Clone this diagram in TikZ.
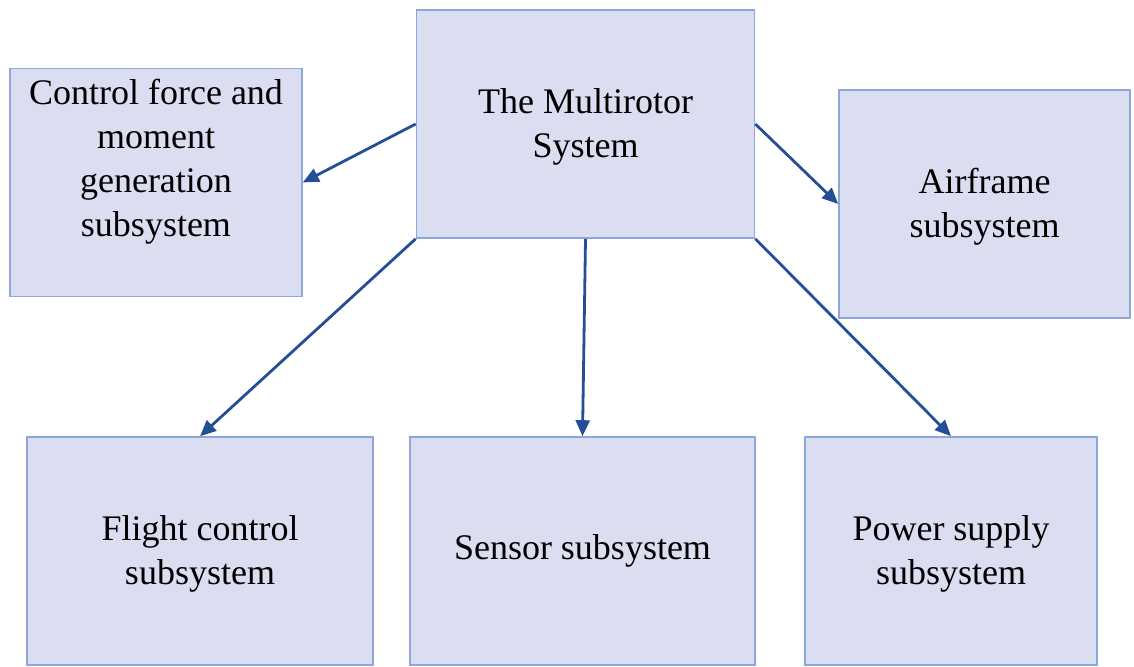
\documentclass[tikz,border=0pt]{standalone}
\usepackage{fontspec}
\setmainfont{Liberation Serif}
\usetikzlibrary{arrows.meta,positioning}
\definecolor{boxfill}{RGB}{218,222,240}
\definecolor{boxline}{RGB}{140,168,218}
\definecolor{arrowblue}{RGB}{36,78,150}
\tikzset{
  >={Triangle[length=8pt,width=7pt]},
  line join=round,
  subbox/.style={draw=boxline, fill=boxfill, line width=0.8pt, align=center,
    inner sep=0pt, minimum height=114pt,
    font=\fontsize{18}{22}\selectfont},
  arrow/.style={->, draw=arrowblue, line width=1.4pt}
}

\begin{document}
\begin{tikzpicture}[x=0.5pt,y=-0.5pt]
    \useasboundingbox (0,0) rectangle (1134,667);
    % top level
    \node[subbox, minimum width=169pt] (system) at (585.5,124) {\strut The Multirotor\\System};
    % the five subsystems
    \node[subbox, minimum width=146pt] (ctrl) at (156,182.5)
      {Control force and\\moment\\generation\\subsystem\\[-4pt]\strut};
    \node[subbox, minimum width=145.5pt] (airframe) at (984.5,204) {\strut Airframe\\subsystem};
    \node[subbox, minimum width=173pt] (flight) at (200,551) {\strut Flight control\\subsystem};
    \node[subbox, minimum width=172.5pt] (sensor) at (582.5,551) {Sensor subsystem};
    \node[subbox, minimum width=146pt] (power) at (951,551) {\strut Power supply\\subsystem};
    % connections
    \draw[arrow] (system.west) -- (ctrl.east);
    \draw[arrow] (system.east) -- (airframe.west);
    \draw[arrow] (system.south west) -- (flight.north);
    \draw[arrow] (system.south) -- (sensor.north);
    \draw[arrow] (system.south east) -- (power.north);
\end{tikzpicture}
\end{document}
